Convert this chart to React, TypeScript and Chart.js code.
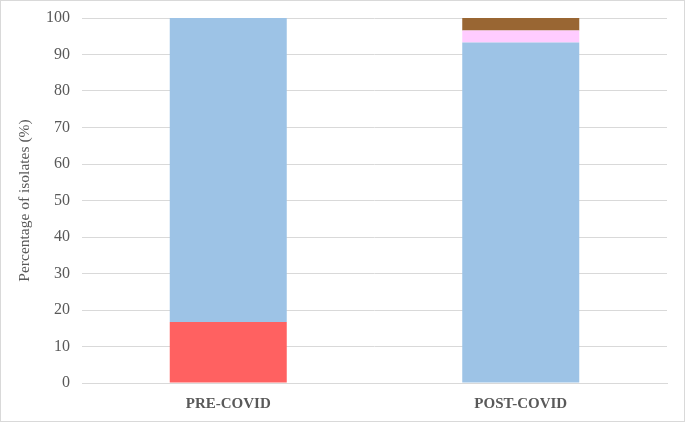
import React, { useEffect, useRef } from "react";
import { Chart, registerables } from "chart.js";

Chart.register(...registerables);

const categories = ["PRE-COVID", "POST-COVID"];
const seriesNames = ["Group A", "Group B", "Group C", "Group D"];
const seriesA = [16.7, 0];
const seriesB = [83.3, 93.3];
const seriesC = [0, 3.3];
const seriesD = [0, 3.4];
const colors = ["#ff6161", "#9dc3e6", "#ffccff", "#996633"];

export default function App() {
  const ref = useRef<HTMLCanvasElement | null>(null);
  useEffect(() => {
    document.body.style.margin = "0";
    const ctx = ref.current!;
    const data = [seriesA, seriesB, seriesC, seriesD];
    const serif = "'Liberation Serif', 'Times New Roman', serif";
    const chart = new Chart(ctx, {
      type: "bar",
      data: {
        labels: categories,
        datasets: data.map((d, i) => ({
          label: seriesNames[i],
          data: d,
          backgroundColor: colors[i],
          borderWidth: 0,
          barPercentage: 0.4,
          categoryPercentage: 1,
        })),
      },
      options: {
        animation: false,
        responsive: true,
        maintainAspectRatio: false,
        layout: { padding: { top: 17, right: 17, bottom: 0, left: 0 } },
        plugins: { legend: { display: false }, tooltip: { enabled: false } },
        scales: {
          x: {
            stacked: true,
            grid: { display: false, drawTicks: false },
            border: { color: "#d9d9d9" },
            ticks: {
              color: "#595959",
              font: { family: serif, size: 15, weight: "bold" },
              padding: 12,
            },
            afterFit: (s: any) => {
              s.height = 38;
              s.paddingLeft = 0;
              s.paddingRight = 0;
            },
          },
          y: {
            stacked: true,
            min: 0,
            max: 100,
            ticks: {
              stepSize: 10,
              color: "#595959",
              font: { family: serif, size: 16 },
              padding: 12,
            },
            grid: { color: "#d9d9d9", drawTicks: false },
            border: { display: false },
            title: {
              display: true,
              text: "Percentage of isolates (%)",
              color: "#595959",
              font: { family: serif, size: 15.5 },
              padding: { top: 15, bottom: 8 },
            },
            afterFit: (s: any) => {
              s.width = 81;
              s.paddingTop = 0;
              s.paddingBottom = 0;
            },
          },
        },
      },
    });
    return () => chart.destroy();
  }, []);
  return (
    <div
      style={{
        position: "absolute",
        left: 0,
        top: 0,
        width: 685,
        height: 422,
        border: "1px solid #d9d9d9",
        boxSizing: "border-box",
        background: "#fff",
      }}
    >
      <canvas ref={ref} />
    </div>
  );
}
